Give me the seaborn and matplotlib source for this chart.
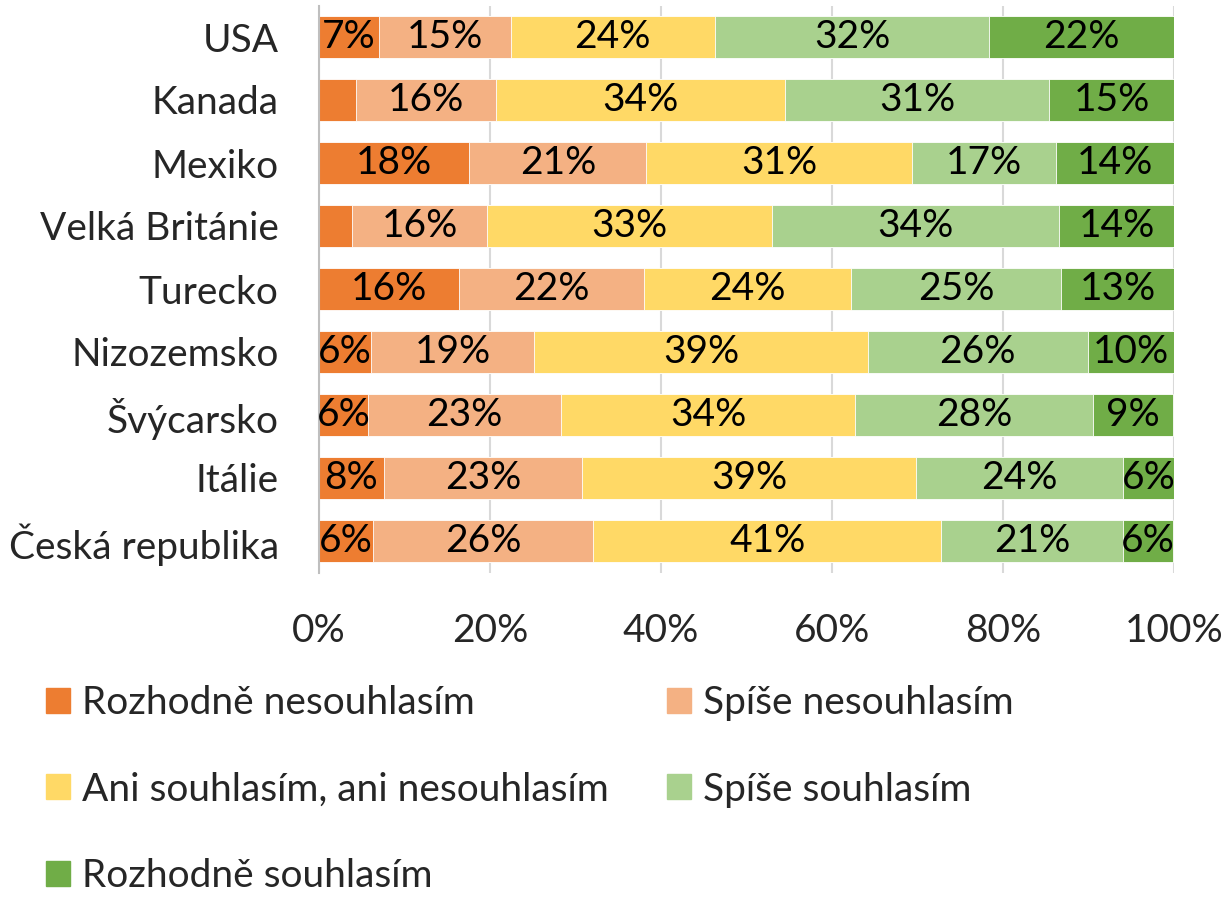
import matplotlib
matplotlib.use("Agg")
import matplotlib.pyplot as plt
import matplotlib.patches as mpatches
import numpy as np
import seaborn as sns

# data (percent of respondents)
countries = ["USA", "Kanada", "Mexiko", "Velká Británie", "Turecko",
             "Nizozemsko", "Švýcarsko", "Itálie", "Česká republika"]
categories = ["Rozhodně nesouhlasím", "Spíše nesouhlasím",
              "Ani souhlasím, ani nesouhlasím", "Spíše souhlasím",
              "Rozhodně souhlasím"]
rozhodne_ne = [7.0, 4.3, 17.6, 3.9, 16.4, 6.1, 5.7, 7.6, 6.3]
spise_ne = [15.4, 16.4, 20.7, 15.8, 21.6, 19.1, 22.6, 23.2, 25.8]
ani = [23.9, 33.8, 31.0, 33.3, 24.2, 39.0, 34.4, 39.0, 40.7]
spise_ano = [32.1, 30.9, 16.9, 33.5, 24.6, 25.7, 27.8, 24.2, 21.2]
rozhodne_ano = [21.6, 14.6, 13.8, 13.6, 13.3, 10.1, 9.4, 6.0, 5.9]
colors = ["#ED7D31", "#F4B183", "#FFD966", "#A9D18E", "#70AD47"]

series = np.array([rozhodne_ne, spise_ne, ani, spise_ano, rozhodne_ano])
cum = series.cumsum(axis=0)

sns.set_style("white")
plt.rcParams["font.family"] = ["Lato", "DejaVu Sans"]
FS = 28

fig = plt.figure(figsize=(12.26, 8.99), dpi=100)
ax = fig.add_axes([319 / 1226, 1 - 572.5 / 899, 855 / 1226, 567 / 899])

# draw stacked bars back to front (largest cumulative first)
for k in range(len(categories) - 1, -1, -1):
    sns.barplot(x=cum[k], y=countries, color=colors[k], orient="h",
                width=0.667, saturation=1, edgecolor="white", linewidth=0.6,
                ax=ax, zorder=2)

# segment labels
for k in range(len(categories)):
    left = cum[k] - series[k]
    for i, v in enumerate(series[k]):
        if v >= 5:
            ax.text(left[i] + v / 2, i, f"{int(round(v))}%", ha="center",
                    va="center", fontsize=FS, color="black", zorder=3)

ax.set_xlim(0, 100)
ax.set_xticks([0, 20, 40, 60, 80, 100])
ax.set_xticklabels([f"{t}%" for t in range(0, 101, 20)])
ax.xaxis.grid(True, color="#D9D9D9", linewidth=1.5, zorder=0)
ax.set_axisbelow(True)
ax.tick_params(axis="both", length=0, labelsize=FS, pad=29)
ax.set_xlabel("")
ax.set_ylabel("")
for s in ["top", "right", "bottom"]:
    ax.spines[s].set_visible(False)
ax.spines["left"].set_color("#BFBFBF")
ax.spines["left"].set_linewidth(1.5)

# legend filled row by row (matplotlib fills columns, so reorder)
handles = [mpatches.Patch(color=c, label=l) for c, l in zip(colors, categories)]
order = [0, 2, 4, 1, 3]
fig.legend(handles=[handles[i] for i in order], loc="upper left",
           bbox_to_anchor=(46 / 1226, 1 - 685 / 899),
           ncol=2, frameon=False, fontsize=FS, handlelength=0.62, handleheight=0.62,
           handletextpad=0.3, columnspacing=1.5, labelspacing=1.3,
           borderpad=0, borderaxespad=0)

fig.savefig("out.png", dpi=100)
